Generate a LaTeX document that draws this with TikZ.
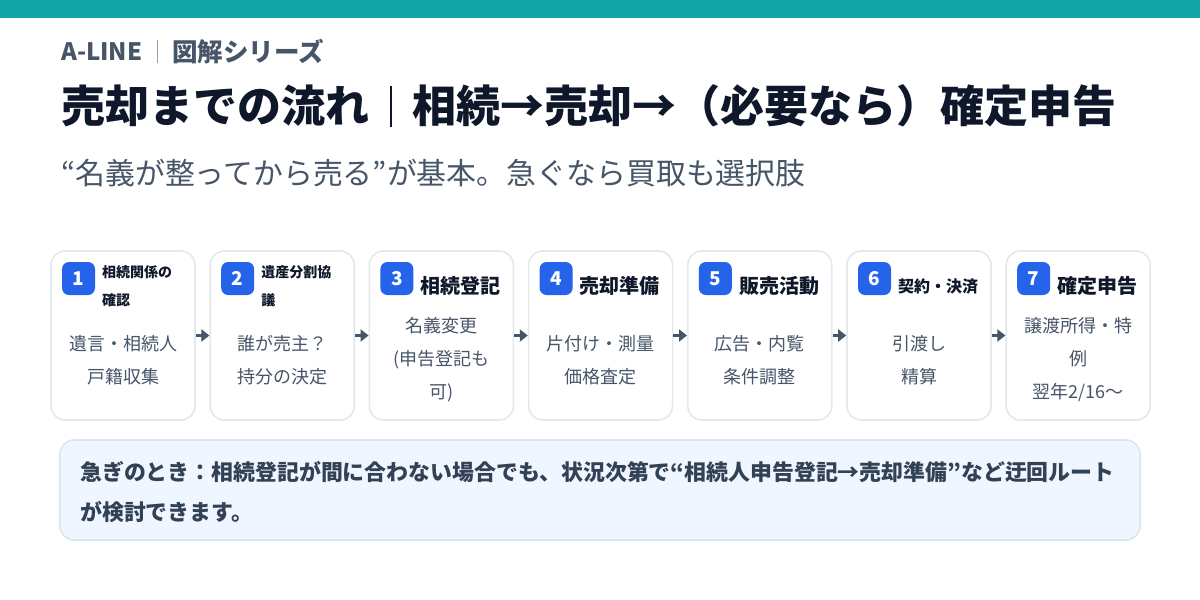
\documentclass[tikz,border=0pt]{standalone}
\usepackage{fontspec}
\setmainfont{Noto Sans CJK JP}
\usetikzlibrary{arrows.meta}
\definecolor{barteal}{RGB}{16,164,166}
\definecolor{slatetext}{HTML}{475569}
\definecolor{titlecol}{HTML}{0F172A}
\definecolor{sepgray}{HTML}{94A3B8}
\definecolor{boxline}{HTML}{E2E8F0}
\definecolor{badgeblue}{HTML}{2563EB}
\definecolor{arrowcol}{HTML}{475569}
\definecolor{notefill}{HTML}{EFF6FF}
\definecolor{noteline}{HTML}{DCE6F2}
\definecolor{notetext}{HTML}{334155}
\tikzset{
  stepbox/.style={draw=boxline, line width=1.6pt, rounded corners=14pt, fill=white,
    minimum width=144pt, minimum height=169pt, inner sep=0pt},
  badge/.style={fill=badgeblue, rounded corners=7pt, minimum size=33pt, inner sep=0pt,
    text=white, font=\bfseries\fontsize{19}{19}\selectfont},
  steptitle/.style={anchor=west, inner sep=0pt, align=left, text=titlecol},
  stepbody/.style={align=center, inner sep=0pt, text=slatetext, font=\fontsize{18}{33}\selectfont},
  flow/.style={-{Triangle[length=8pt,width=12pt]}, line width=3.5pt, draw=arrowcol},
  plain/.style={anchor=west, inner sep=0pt}
}
\newcommand\mystep[6]{%
  \node[stepbox] (b#1) at (#2+72,335.5) {};
  \node[badge] (n#1) at (#2+27.5,278.5) {#1};
  \node[steptitle, font=\bfseries\fontsize{#3}{#4}\selectfont] (t#1) at (#2+51,286) {#5};
  \node[stepbody] (d#1) at (#2+72,360) {#6};
}
\begin{document}
\begin{tikzpicture}[x=1pt,y=-1pt]
\useasboundingbox (0,0) rectangle (1200,600);
\fill[white] (0,0) rectangle (1200,600);
\fill[barteal] (0,0) rectangle (1200,18);
% header
\node[plain, text=slatetext, font=\bfseries\fontsize{24}{24}\selectfont] (brand) at (61,51.5) {A-LINE};
\draw[sepgray, line width=1.2pt] (157.5,40) -- (157.5,63);
\node[plain, text=slatetext, font=\bfseries\fontsize{25.5}{25.5}\selectfont] (series) at (172,51.5) {図解シリーズ};
% title
\node[plain, text=titlecol, font=\bfseries\fontsize{44}{44}\selectfont] (title1) at (61,106) {売却までの流れ};
\draw[titlecol, line width=2pt] (391,86) -- (391,127);
\node[plain, text=titlecol, font=\bfseries\fontsize{44}{44}\selectfont] (title2) at (412,106) {相続→売却→（必要なら）確定申告};
% subtitle
\node[plain, text=slatetext, font=\fontsize{29.9}{29.9}\selectfont] (sub) at (61,173) {“名義が整ってから売る”が基本。急ぐなら買取も選択肢};
% steps
\mystep{1}{51}{14}{28}{相続関係の\\確認}{遺言・相続人\\戸籍収集}
\mystep{2}{210.2}{14}{28}{遺産分割協\\議}{誰が売主？\\持分の決定}
\mystep{3}{369.4}{20}{20}{相続登記}{名義変更\\(申告登記も\\可)}
\mystep{4}{528.6}{20}{20}{売却準備}{片付け・測量\\価格査定}
\mystep{5}{687.8}{20}{20}{販売活動}{広告・内覧\\条件調整}
\mystep{6}{847}{16}{16}{契約・決済}{引渡し\\精算}
\mystep{7}{1006.2}{20}{20}{確定申告}{譲渡所得・特\\例\\翌年2/16〜}
\foreach \i [evaluate=\i as \j using int(\i+1)] in {1,...,6}
  \draw[flow] (b\i.east) -- (b\j.west);
% note
\node[draw=noteline, line width=1.6pt, fill=notefill, rounded corners=14pt,
  minimum width=1080pt, minimum height=100pt, inner sep=0pt] (note) at (600,490) {};
\node[plain, align=left, text=notetext, font=\bfseries\fontsize{21.9}{40}\selectfont] (notetxt) at (80,492)
  {急ぎのとき：相続登記が間に合わない場合でも、状況次第で“相続人申告登記→売却準備”など迂回ルート\\が検討できます。};
\end{tikzpicture}
\end{document}
